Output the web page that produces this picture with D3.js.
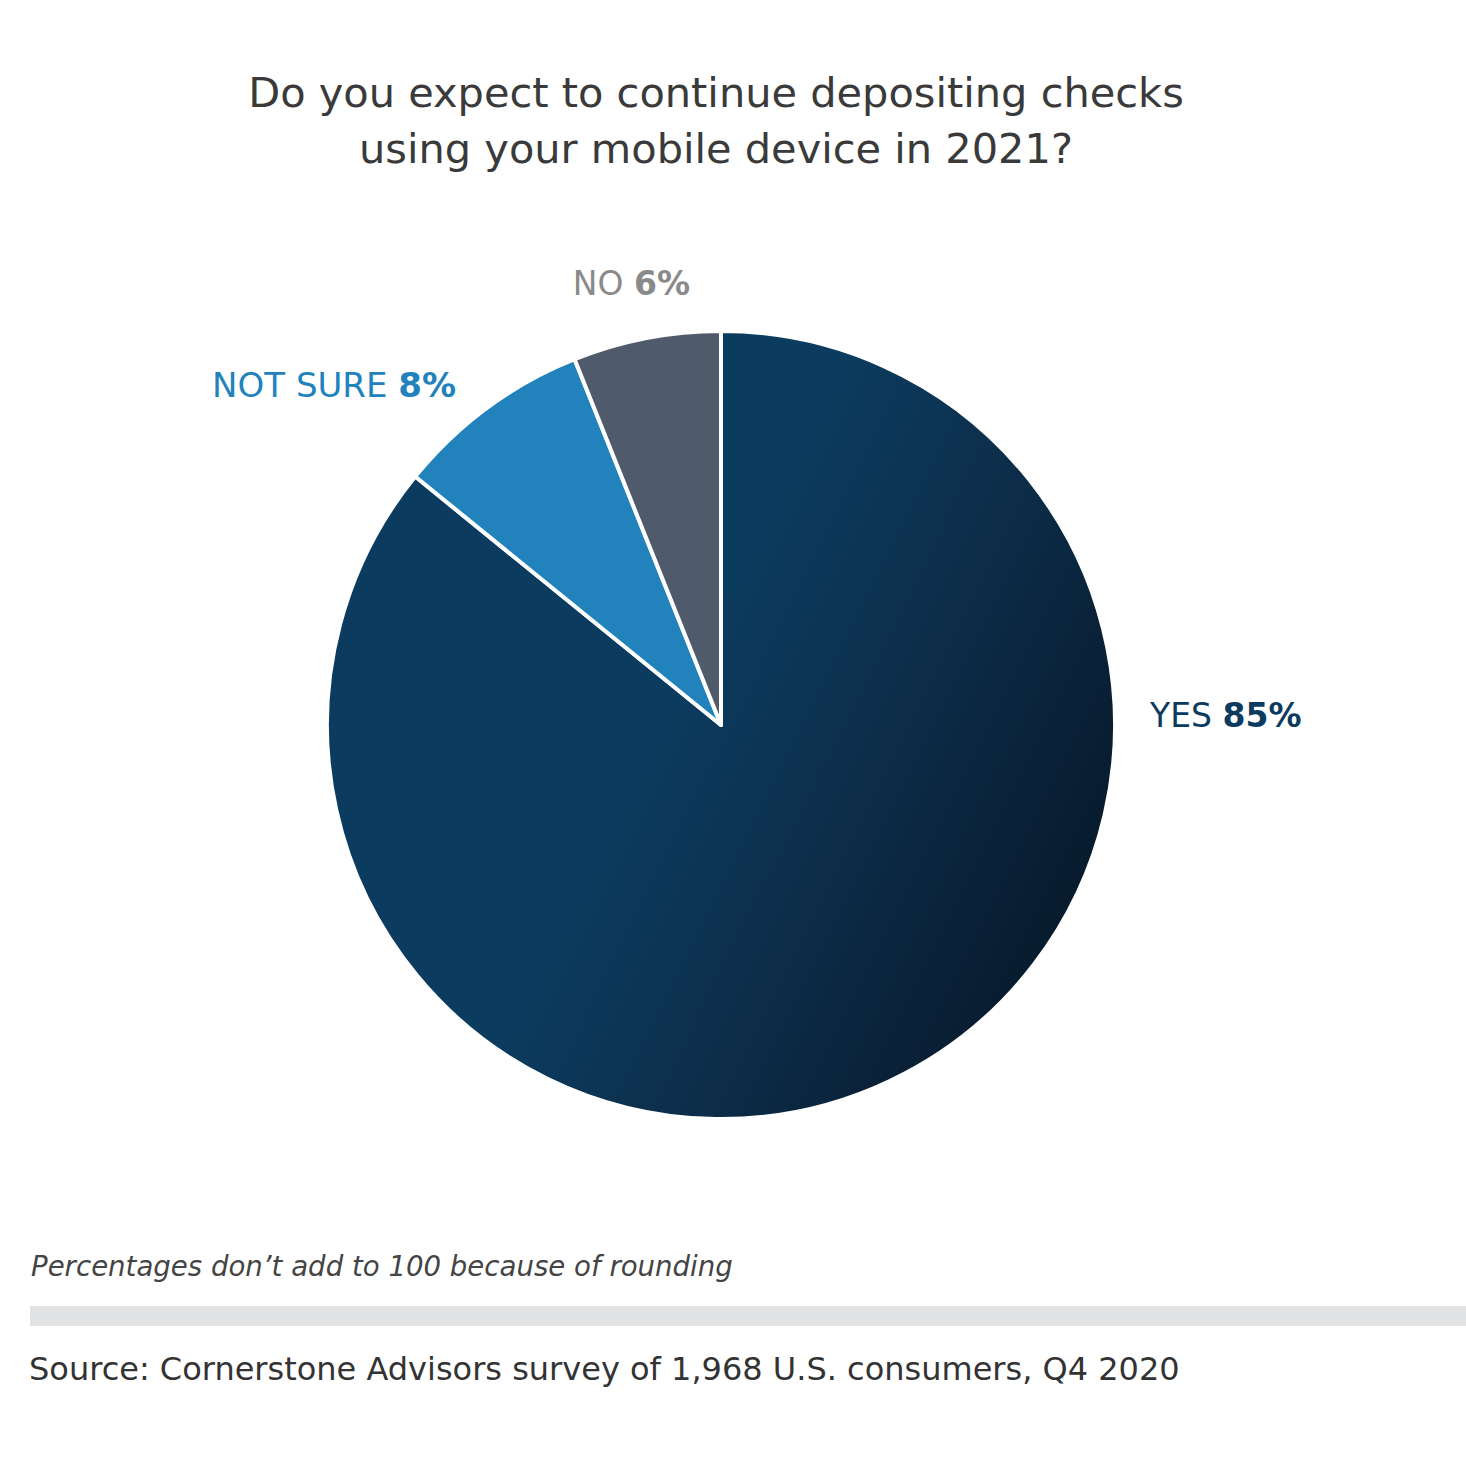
<!DOCTYPE html>
<html><head><meta charset="utf-8">
<script src="https://cdn.jsdelivr.net/npm/d3@7"></script>
<style>body{margin:0;background:#fff}svg{display:block}</style>
</head><body>
<script>
const categories = ["YES", "NOT SURE", "NO"];
const values = [85, 8, 6];
const labelColors = ["#0b3c5f", "#2182bc", "#8a8a8a"];
const sliceColors = ["url(#yesGrad)", "#2182bc", "#4f5a6a"];
const titleLines = ["Do you expect to continue depositing checks", "using your mobile device in 2021?"];
const footnote = "Percentages don\u2019t add to 100 because of rounding";
const source = "Source: Cornerstone Advisors survey of 1,968 U.S. consumers, Q4 2020";

const W = 1466, H = 1462;
const svg = d3.select("body").append("svg").attr("width", W).attr("height", H);
const font = "'DejaVu Sans', sans-serif";

const cx = 721, cy = 725, R = 394;
const defs = svg.append("defs");
// gradient coordinates are relative to the pie centre (paths live in a translated group)
const g0 = defs.append("linearGradient").attr("id", "yesGrad")
  .attr("gradientUnits", "userSpaceOnUse")
  .attr("x1", -315).attr("y1", -157).attr("x2", 384).attr("y2", 192);
[[0, "#0b3c5f"], [0.386, "#0b3b5e"], [0.629, "#0d2e4b"], [1, "#07182a"]].forEach(s =>
  g0.append("stop").attr("offset", s[0]).attr("stop-color", s[1]));

svg.append("g").selectAll("text").data(titleLines).join("text")
  .attr("x", 716).attr("y", (d, i) => 107 + i * 56)
  .attr("text-anchor", "middle").attr("font-family", font)
  .attr("font-size", 41.5).attr("fill", "#3a3a3a").text(d => d);

const pie = d3.pie().sort(null).value(d => d);
const arcs = pie(values);
const arc = d3.arc().innerRadius(0).outerRadius(R);
const gp = svg.append("g").attr("transform", `translate(${cx},${cy})`);
gp.selectAll("path").data(arcs).join("path")
  .attr("d", arc).attr("fill", (d, i) => sliceColors[i])
  .attr("stroke", "#fff").attr("stroke-width", 4).attr("stroke-linejoin", "round");

const labelPos = [
  { x: 1150, y: 727, anchor: "start", size: 33 },
  { x: 456, y: 397, anchor: "end", size: 34 },
  { x: 690, y: 295, anchor: "end", size: 33 }
];
const lg = svg.append("g");
arcs.forEach((d, i) => {
  const t = lg.append("text").attr("x", labelPos[i].x).attr("y", labelPos[i].y)
    .attr("text-anchor", labelPos[i].anchor).attr("font-family", font)
    .attr("font-size", labelPos[i].size).attr("fill", labelColors[i]);
  t.append("tspan").text(categories[i] + " ");
  t.append("tspan").attr("font-weight", "bold").text(values[i] + "%");
});

svg.append("text").attr("x", 31).attr("y", 1276).attr("font-family", font)
  .attr("font-style", "italic").attr("font-size", 27.6).attr("fill", "#444").text(footnote);
svg.append("rect").attr("x", 30).attr("y", 1306).attr("width", W - 30).attr("height", 20).attr("fill", "#e1e2e4");
svg.append("text").attr("x", 29).attr("y", 1380).attr("font-family", font)
  .attr("font-size", 32).attr("fill", "#333").text(source);
</script>
</body></html>
